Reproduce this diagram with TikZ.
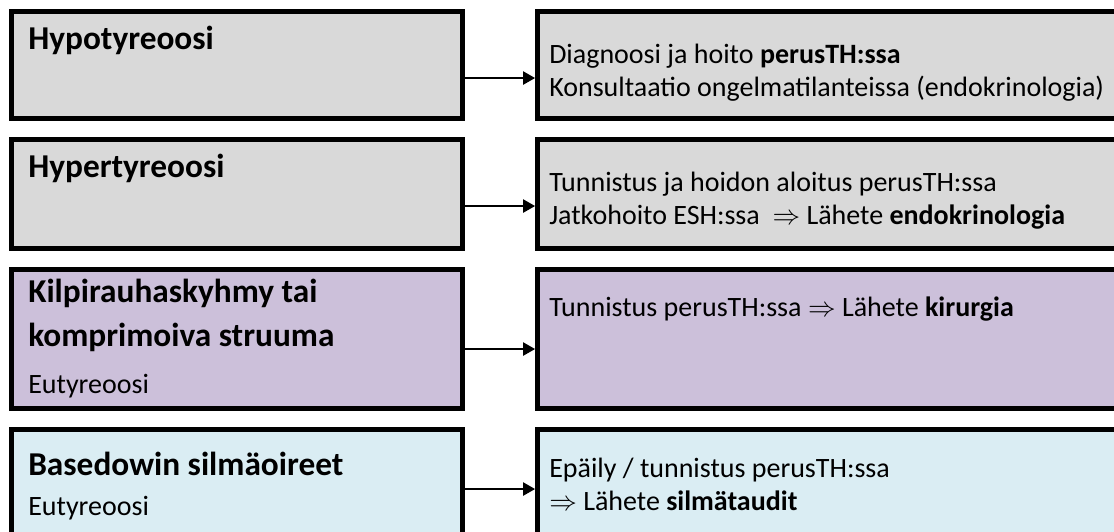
\documentclass[tikz,border=0pt]{standalone}
\usepackage{fontspec}
\setmainfont{Carlito}
\usetikzlibrary{arrows.meta}
\definecolor{boxgray}{HTML}{D9D9D9}
\definecolor{boxpurple}{HTML}{CCC0DA}
\definecolor{boxblue}{HTML}{DAEDF3}
\tikzset{
  box/.style={draw=black, line width=4pt, inner sep=0pt, outer sep=0pt, anchor=north west},
  lbox/.style={box, minimum width=338pt},
  rbox/.style={box, minimum width=452pt},
  ttl/.style={anchor=base west, inner sep=0pt, font=\fontsize{25}{30}\selectfont\bfseries},
  sub/.style={anchor=base west, inner sep=0pt, font=\fontsize{21}{25}\selectfont},
  txt/.style={anchor=base west, inner sep=0pt, font=\fontsize{21}{25}\selectfont},
  arr/.style={line width=1.1pt, -{Triangle[length=9pt,width=10pt]}, shorten >=2pt},
}
\begin{document}
\begin{tikzpicture}[x=0.75pt, y=-0.75pt]
\useasboundingbox (0,0) rectangle (1114,532);
\clip (0,0) rectangle (1114,532);
% row 1
\node[lbox, fill=boxgray, minimum height=80pt] (L1) at (11.7,11.7) {};
\node[rbox, fill=boxgray, minimum height=80pt] (R1) at (537.7,11.7) {};
\node[ttl] (t1) at (28,49) {Hypotyreoosi};
\node[txt] (r1a) at (549,63) {Diagnoosi ja hoito \textbf{perusTH:ssa}};
\node[txt] (r1b) at (549,96) {Konsultaatio ongelmatilanteissa (endokrinologia)};
\draw[arr] ([yshift=-9.75pt]L1.east) -- ([yshift=-9.75pt]R1.west);
% row 2
\node[lbox, fill=boxgray, minimum height=81.5pt] (L2) at (11.7,139.7) {};
\node[rbox, fill=boxgray, minimum height=81.5pt] (R2) at (537.7,139.7) {};
\node[ttl] (t2) at (28,177) {Hypertyreoosi};
\node[txt] (r2a) at (549,191) {Tunnistus ja hoidon aloitus perusTH:ssa};
\node[txt] (r2b) at (549,224) {Jatkohoito ESH:ssa \ $\Rightarrow$ Lähete \textbf{endokrinologia}};
\draw[arr] ([yshift=-9pt]L2.east) -- ([yshift=-9pt]R2.west);
% row 3
\node[lbox, fill=boxpurple, minimum height=104pt] (L3) at (11.7,269.7) {};
\node[rbox, fill=boxpurple, minimum height=104pt] (R3) at (537.7,269.7) {};
\node[ttl] (t3a) at (28,302) {Kilpirauhaskyhmy tai};
\node[ttl] (t3b) at (28,346) {komprimoiva struuma};
\node[sub] (t3c) at (28,393) {Eutyreoosi};
\node[txt] (r3a) at (549,316) {Tunnistus perusTH:ssa $\Rightarrow$ Lähete \textbf{kirurgia}};
\draw[arr] ([yshift=-7.5pt]L3.east) -- ([yshift=-7.5pt]R3.west);
% row 4
\node[lbox, fill=boxblue, minimum height=89pt] (L4) at (11.7,429.7) {};
\node[rbox, fill=boxblue, minimum height=89pt] (R4) at (537.7,429.7) {};
\node[ttl] (t4a) at (28,475) {Basedowin silmäoireet};
\node[sub] (t4b) at (28,515) {Eutyreoosi};
\node[txt] (r4a) at (549,477) {Epäily / tunnistus perusTH:ssa};
\node[txt] (r4b) at (549,510) {$\Rightarrow$ Lähete \textbf{silmätaudit}};
\draw[arr] ([yshift=0pt]L4.east) -- ([yshift=0pt]R4.west);
\end{tikzpicture}
\end{document}
